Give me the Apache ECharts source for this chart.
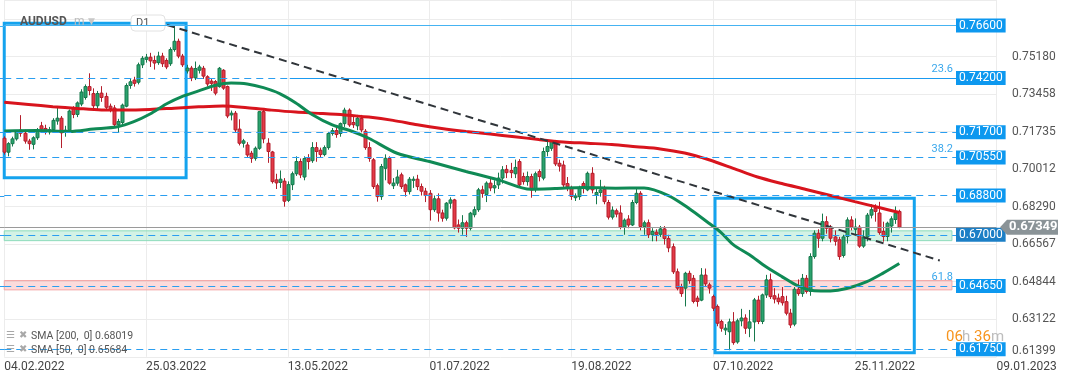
<!DOCTYPE html>
<html><head><meta charset="utf-8">
<script src="https://cdn.jsdelivr.net/npm/echarts@6/dist/echarts.min.js"></script>
<style>html,body{margin:0;padding:0;background:#fff}#c{width:1072px;height:382px}</style>
</head><body><div id="c"></div>
<script>
// ---------- data ----------
const DATE_TICKS = ['04.02.2022','25.03.2022','13.05.2022','01.07.2022','19.08.2022','07.10.2022','25.11.2022','09.01.2023'];
const TICK_STEP = 35; // trading days between date ticks
const PRICE_TICKS = ['0.61399','0.63122','0.64844','0.66567','0.68290','0.70012','0.71735','0.73458','0.75180'];
// daily AUDUSD candles [open, close, low, high], from 04.02.2022
const CANDLES = [
[0.7143,0.7079,0.7068,0.7152],[0.7079,0.7118,0.7060,0.7125],[0.7118,0.7140,0.7105,0.7150],[0.7140,0.7172,0.7132,0.7180],[0.7180,0.7166,0.7150,0.7249],
[0.7166,0.7130,0.7118,0.7182],[0.7130,0.7118,0.7090,0.7140],[0.7115,0.7145,0.7092,0.7152],[0.7145,0.7180,0.7135,0.7190],[0.7200,0.7185,0.7168,0.7218],
[0.7188,0.7174,0.7160,0.7205],[0.7172,0.7182,0.7160,0.7195],[0.7182,0.7225,0.7172,0.7235],[0.7222,0.7235,0.7205,0.7282],[0.7235,0.7168,0.7098,0.7245],
[0.7170,0.7180,0.7150,0.7200],[0.7180,0.7268,0.7170,0.7275],[0.7280,0.7252,0.7235,0.7290],[0.7252,0.7305,0.7240,0.7312],[0.7300,0.7355,0.7290,0.7368],
[0.7330,0.7380,0.7320,0.7390],[0.7380,0.7362,0.7340,0.7441],[0.7348,0.7292,0.7280,0.7372],[0.7292,0.7348,0.7275,0.7360],[0.7350,0.7330,0.7310,0.7382],
[0.7335,0.7285,0.7272,0.7352],[0.7290,0.7280,0.7262,0.7302],[0.7282,0.7205,0.7190,0.7295],[0.7205,0.7220,0.7170,0.7232],[0.7215,0.7295,0.7205,0.7302],
[0.7290,0.7385,0.7285,0.7395],[0.7385,0.7402,0.7370,0.7415],[0.7410,0.7395,0.7380,0.7425],[0.7400,0.7480,0.7390,0.7490],[0.7480,0.7510,0.7465,0.7520],
[0.7505,0.7515,0.7490,0.7530],[0.7515,0.7498,0.7470,0.7535],[0.7500,0.7488,0.7458,0.7522],[0.7490,0.7520,0.7480,0.7540],[0.7520,0.7485,0.7470,0.7535],
[0.7500,0.7470,0.7460,0.7510],[0.7485,0.7550,0.7475,0.7560],[0.7550,0.7588,0.7540,0.7661],[0.7588,0.7520,0.7510,0.7600],[0.7520,0.7480,0.7470,0.7530],
[0.7452,0.7465,0.7440,0.7480],[0.7465,0.7420,0.7405,0.7475],[0.7420,0.7463,0.7410,0.7495],[0.7455,0.7470,0.7440,0.7480],[0.7464,0.7428,0.7415,0.7475],
[0.7425,0.7392,0.7380,0.7432],[0.7405,0.7395,0.7360,0.7415],[0.7403,0.7350,0.7340,0.7410],[0.7380,0.7464,0.7375,0.7470],[0.7455,0.7373,0.7365,0.7460],
[0.7380,0.7245,0.7235,0.7385],[0.7250,0.7258,0.7225,0.7270],[0.7258,0.7181,0.7170,0.7268],[0.7185,0.7120,0.7110,0.7230],[0.7120,0.7131,0.7100,0.7140],
[0.7112,0.7066,0.7055,0.7125],[0.7074,0.7051,0.7030,0.7085],[0.7051,0.7097,0.7040,0.7105],[0.7097,0.7265,0.7090,0.7266],[0.7265,0.7140,0.7120,0.7275],
[0.7120,0.7082,0.7030,0.7143],[0.7080,0.6944,0.6935,0.7085],[0.6952,0.6938,0.6910,0.6980],[0.6940,0.6955,0.6915,0.6995],[0.6946,0.6854,0.6829,0.6960],
[0.6858,0.6930,0.6850,0.6945],[0.6930,0.6980,0.6905,0.6990],[0.6980,0.7036,0.6970,0.7060],[0.7036,0.6975,0.6960,0.7050],[0.6965,0.7050,0.6950,0.7060],
[0.7051,0.7036,0.7000,0.7070],[0.7040,0.7100,0.7030,0.7125],[0.7100,0.7082,0.7035,0.7125],[0.7088,0.7068,0.7055,0.7100],[0.7068,0.7100,0.7060,0.7110],
[0.7100,0.7165,0.7090,0.7172],[0.7165,0.7178,0.7155,0.7190],[0.7178,0.7160,0.7145,0.7200],[0.7165,0.7210,0.7150,0.7215],[0.7210,0.7272,0.7195,0.7283],
[0.7272,0.7204,0.7195,0.7280],[0.7215,0.7205,0.7190,0.7250],[0.7200,0.7235,0.7180,0.7250],[0.7234,0.7181,0.7170,0.7250],[0.7175,0.7100,0.7090,0.7185],
[0.7100,0.7050,0.7035,0.7125],[0.7044,0.6921,0.6910,0.7052],[0.6925,0.6875,0.6852,0.6935],[0.6875,0.7013,0.6860,0.7025],[0.7005,0.7051,0.6950,0.7069],
[0.7050,0.6937,0.6930,0.7060],[0.6925,0.6937,0.6910,0.6960],[0.6937,0.6965,0.6925,0.6998],[0.6975,0.6921,0.6910,0.6985],[0.6929,0.6898,0.6875,0.6935],
[0.6898,0.6955,0.6885,0.6965],[0.6950,0.6955,0.6915,0.6968],[0.6955,0.6921,0.6905,0.6975],[0.6921,0.6900,0.6880,0.6935],[0.6900,0.6880,0.6850,0.6915],
[0.6890,0.6815,0.6765,0.6905],[0.6815,0.6865,0.6805,0.6880],[0.6865,0.6800,0.6760,0.6890],[0.6800,0.6776,0.6760,0.6815],[0.6776,0.6845,0.6765,0.6850],
[0.6845,0.6860,0.6820,0.6872],[0.6860,0.6732,0.6725,0.6865],[0.6745,0.6730,0.6710,0.6770],[0.6730,0.6755,0.6700,0.6790],[0.6755,0.6730,0.6690,0.6765],
[0.6730,0.6799,0.6720,0.6805],[0.6792,0.6815,0.6780,0.6830],[0.6815,0.6906,0.6805,0.6915],[0.6906,0.6890,0.6870,0.6925],[0.6885,0.6937,0.6850,0.6945],
[0.6937,0.6915,0.6900,0.6960],[0.6915,0.6925,0.6890,0.6950],[0.6929,0.6960,0.6910,0.6985],[0.6960,0.6998,0.6935,0.7015],[0.7000,0.6985,0.6960,0.7020],
[0.6995,0.6985,0.6960,0.7030],[0.6980,0.7009,0.6960,0.7045],[0.7036,0.6929,0.6915,0.7047],[0.6967,0.6944,0.6930,0.6985],[0.6944,0.6967,0.6925,0.6990],
[0.6967,0.6906,0.6870,0.6980],[0.6910,0.6980,0.6895,0.6990],[0.6990,0.6967,0.6945,0.7000],[0.6960,0.7082,0.6950,0.7100],[0.7082,0.7105,0.7060,0.7137],
[0.7097,0.7128,0.7085,0.7135],[0.7125,0.7025,0.7015,0.7135],[0.7028,0.7015,0.6990,0.7045],[0.7020,0.6929,0.6915,0.7040],[0.6935,0.6920,0.6900,0.6965],
[0.6915,0.6876,0.6860,0.6925],[0.6870,0.6878,0.6855,0.6890],[0.6875,0.6915,0.6860,0.6925],[0.6935,0.6912,0.6890,0.6945],[0.6906,0.6982,0.6900,0.6990],
[0.6982,0.6906,0.6890,0.7010],[0.6883,0.6894,0.6840,0.6915],[0.6894,0.6906,0.6875,0.6952],[0.6909,0.6852,0.6840,0.6925],[0.6848,0.6781,0.6770,0.6860],
[0.6781,0.6813,0.6770,0.6830],[0.6810,0.6795,0.6780,0.6820],[0.6800,0.6736,0.6725,0.6835],[0.6736,0.6767,0.6700,0.6775],[0.6772,0.6745,0.6730,0.6790],
[0.6745,0.6848,0.6740,0.6860],[0.6848,0.6890,0.6840,0.6916],[0.6890,0.6738,0.6720,0.6900],[0.6738,0.6755,0.6700,0.6765],[0.6755,0.6700,0.6685,0.6770],
[0.6700,0.6715,0.6670,0.6730],[0.6712,0.6702,0.6670,0.6725],[0.6702,0.6727,0.6690,0.6740],[0.6727,0.6683,0.6655,0.6740],[0.6683,0.6640,0.6620,0.6700],
[0.6645,0.6530,0.6520,0.6660],[0.6530,0.6455,0.6445,0.6545],[0.6460,0.6430,0.6415,0.6475],[0.6455,0.6523,0.6371,0.6530],[0.6523,0.6490,0.6475,0.6535],
[0.6500,0.6394,0.6385,0.6515],[0.6409,0.6394,0.6370,0.6420],[0.6400,0.6515,0.6395,0.6547],[0.6515,0.6475,0.6460,0.6545],[0.6470,0.6455,0.6430,0.6480],
[0.6416,0.6363,0.6350,0.6425],[0.6371,0.6294,0.6280,0.6380],[0.6302,0.6271,0.6255,0.6310],[0.6263,0.6271,0.6240,0.6290],[0.6255,0.6300,0.6170,0.6315],
[0.6300,0.6205,0.6195,0.6345],[0.6208,0.6305,0.6200,0.6315],[0.6305,0.6318,0.6280,0.6360],[0.6318,0.6271,0.6245,0.6335],[0.6271,0.6300,0.6230,0.6355],
[0.6300,0.6401,0.6210,0.6410],[0.6400,0.6302,0.6290,0.6420],[0.6302,0.6424,0.6290,0.6430],[0.6424,0.6493,0.6410,0.6516],[0.6493,0.6416,0.6405,0.6522],
[0.6420,0.6405,0.6385,0.6455],[0.6409,0.6393,0.6380,0.6430],[0.6416,0.6388,0.6375,0.6460],[0.6393,0.6340,0.6330,0.6420],[0.6340,0.6286,0.6272,0.6360],
[0.6290,0.6450,0.6280,0.6460],[0.6450,0.6430,0.6420,0.6495],[0.6430,0.6500,0.6415,0.6520],[0.6500,0.6440,0.6430,0.6515],[0.6440,0.6600,0.6420,0.6615],
[0.6600,0.6707,0.6590,0.6720],[0.6707,0.6684,0.6640,0.6725],[0.6684,0.6760,0.6670,0.6797],[0.6760,0.6730,0.6705,0.6785],[0.6735,0.6684,0.6665,0.6745],
[0.6690,0.6670,0.6650,0.6720],[0.6677,0.6600,0.6585,0.6690],[0.6605,0.6690,0.6595,0.6700],[0.6692,0.6768,0.6660,0.6780],[0.6768,0.6735,0.6720,0.6785],
[0.6725,0.6735,0.6700,0.6775],[0.6735,0.6648,0.6640,0.6745],[0.6648,0.6690,0.6640,0.6720],[0.6690,0.6790,0.6670,0.6800],[0.6790,0.6815,0.6775,0.6840],
[0.6822,0.6807,0.6760,0.6840],[0.6800,0.6710,0.6700,0.6851],[0.6715,0.6692,0.6668,0.6760],[0.6692,0.6753,0.6670,0.6760],[0.6740,0.6773,0.6710,0.6785],
[0.6770,0.6799,0.6750,0.6830],[0.6807,0.67349,0.6730,0.6815]
];
// moving averages: [bar index, value]
const SMA200 = [[0,0.7308],[6,0.7298],[12,0.7288],[18,0.7280],[24,0.7273],[30,0.7272],[36,0.7275],[42,0.7281],[48,0.7287],[54,0.7291],[60,0.7283],[66,0.7272],[72,0.7263],[78,0.7257],[84,0.7250],[90,0.7240],[96,0.7225],[102,0.7205],[108,0.7188],[114,0.7174],[120,0.7162],[126,0.7150],[132,0.7137],[138,0.7126],[144,0.7120],[150,0.7114],[156,0.7104],[162,0.7094],[168,0.7075],[174,0.7044],[180,0.7005],[186,0.6965],[192,0.6935],[198,0.6908],[204,0.6880],[210,0.6852],[216,0.6825],[221,0.6802]];
const SMA50 = [[0,0.7176],[8,0.7178],[16,0.7174],[22,0.7185],[28,0.7196],[32,0.7219],[36,0.7254],[40,0.7300],[44,0.7335],[48,0.7360],[52,0.7385],[56,0.7396],[60,0.7392],[64,0.7375],[68,0.7348],[72,0.7305],[76,0.7252],[81,0.7204],[86,0.7174],[90,0.7143],[97,0.7074],[105,0.7036],[114,0.6990],[122,0.6952],[130,0.6909],[136,0.6912],[143,0.6917],[151,0.6914],[158,0.6915],[164,0.6880],[169,0.6822],[174,0.6753],[177,0.6710],[180,0.6655],[184,0.6608],[188,0.6554],[192,0.6508],[196,0.6465],[200,0.6443],[204,0.6442],[208,0.6453],[213,0.6485],[217,0.6524],[221,0.6568]];
const LEVELS = [0.766, 0.742, 0.717, 0.7055, 0.688, 0.670, 0.6465, 0.6175];
const FIB_LEVELS = [['23.6',0.742],['38.2',0.7055],['61.8',0.6465]];
const LAST_PRICE = 0.67349;
const ZONES = [[0.6718,0.6673],[0.6490,0.6447]];
const BOXES = [[-0.55,0.7671,44.9,0.6962],[175.5,0.6868,224.7,0.6159]];
const TREND = [[40.2,0.7663],[231,0.6582]];
const LEGEND_ITEMS = ['SMA [200,  0] 0.68019','SMA [50,  0] 0.65684'];
const COUNTDOWN = ['06','h','36','m'];

// ---------- chart ----------
const X_MIN = 0, X_MAX = 245, LINE_START = 0, LINE_END = 235, SOLID_FROM = 70.5;
const Y_MIN = 0.61399, Y_MAX = 0.77774, Y_STEP = 0.01722625;
const FONT = 'Roboto, "Noto Sans", sans-serif';
const BLUE = '#2a9ef0';

const chart = echarts.init(document.getElementById('c'), null, {renderer: 'canvas'});

const tagColors = {0.670: '#1c7fc6'};
const levelLines = [];
LEVELS.forEach(v => {
  const tag = {show: true, position: 'end', distance: 0, formatter: v.toFixed(5), color: '#fff',
    backgroundColor: tagColors[v] || '#0d98ef', padding: [1, 3, 1, 3], fontSize: 12, lineHeight: 12, fontFamily: FONT};
  if (v === 0.766) {
    levelLines.push([{coord: [LINE_START, v], lineStyle: {type: 'solid', color: '#45b3f2', width: 1.2}, label: tag}, {coord: [LINE_END, v]}]);
  } else if (v === 0.742) {
    levelLines.push([{coord: [LINE_START, v], lineStyle: {type: [7, 5], color: BLUE, width: 1}, label: {show: false}}, {coord: [SOLID_FROM, v]}]);
    levelLines.push([{coord: [SOLID_FROM, v], lineStyle: {type: 'solid', color: '#1a9af0', width: 1.2}, label: tag}, {coord: [LINE_END, v]}]);
  } else {
    levelLines.push([{coord: [LINE_START, v], lineStyle: {type: [7, 5], color: BLUE, width: 1}, label: tag}, {coord: [LINE_END, v]}]);
  }
});
levelLines.push([{coord: [LINE_START, LAST_PRICE], lineStyle: {type: 'solid', color: '#9a9a9a', width: 1}, label: {show: false}}, {coord: [X_MAX, LAST_PRICE]}]);

const zoneStyles = [
  {color: 'rgba(120,215,175,0.33)', borderColor: '#8fdcbc', borderWidth: 1},
  {color: 'rgba(248,160,160,0.38)', borderColor: '#f4a9a9', borderWidth: 1}
];
const areas = ZONES.map((z, k) => [{coord: [-1.05, z[0]], itemStyle: zoneStyles[k]}, {coord: [234, z[1]]}]);
BOXES.forEach(b => areas.push([{coord: [b[0], b[1]], itemStyle: {color: 'rgba(0,0,0,0)', borderColor: '#14a3ee', borderWidth: 3}}, {coord: [b[2], b[3]]}]));

function renderCandle(params, api) {
  const i = api.value(0), o = api.value(1), c = api.value(2), l = api.value(3), h = api.value(4);
  const po = api.coord([i, o]), yc = api.coord([i, c])[1];
  const yl = api.coord([i, l])[1], yh = api.coord([i, h])[1];
  const up = c >= o;
  const edge = up ? '#17794c' : '#b41f2c';
  const fill = up ? '#2ba36e' : '#e43a47';
  const cx = Math.round(po[0]);
  const top = Math.min(po[1], yc), hgt = Math.max(1, Math.abs(po[1] - yc));
  return {type: 'group', children: [
    {type: 'line', shape: {x1: cx + 0.5, y1: yh, x2: cx + 0.5, y2: yl}, style: {stroke: edge, lineWidth: 1}},
    {type: 'rect', shape: {x: cx - 1, y: top, width: 3, height: hgt}, style: {fill: fill, stroke: edge, lineWidth: 1}}
  ]};
}

const option = {
  animation: false,
  backgroundColor: '#fff',
  grid: {left: 4.25, right: 75.5, top: 0, bottom: 25.2, containLabel: false, outerBoundsMode: 'none'},
  xAxis: {
    type: 'value', min: X_MIN, max: X_MAX, interval: TICK_STEP,
    axisLine: {show: false}, axisTick: {show: false},
    splitLine: {show: true, lineStyle: {color: '#ececec', width: 1}},
    axisLabel: {
      show: true, align: 'left', margin: 4, color: '#444', fontSize: 12, fontFamily: FONT, showMaxLabel: true, showMinLabel: true,
      formatter: v => { const k = v / TICK_STEP; return (Number.isInteger(k) && k < DATE_TICKS.length) ? DATE_TICKS[k] : ''; }
    }
  },
  yAxis: {
    type: 'value', position: 'right', min: Y_MIN, max: Y_MAX, interval: Y_STEP, scale: true,
    axisLine: {show: false}, axisTick: {show: false},
    splitLine: {show: true, lineStyle: {color: '#ececec', width: 1}},
    axisLabel: {
      show: true, margin: 15.5, color: '#555', fontSize: 12, fontFamily: FONT, showMaxLabel: false,
      formatter: v => {
        const k = Math.round((v - Y_MIN) / Y_STEP);
        if (Math.abs(v - (Y_MIN + k * Y_STEP)) > 1e-7 || k < 0 || k >= PRICE_TICKS.length) return '';
        return k === 0 ? '{b|' + PRICE_TICKS[0] + '}' : PRICE_TICKS[k];
      },
      rich: {b: {color: '#555', fontSize: 12, fontFamily: FONT, padding: [0, 0, 11, 0]}}
    }
  },
  series: [
    {type: 'custom', name: 'AUDUSD', clip: false, z: 2, renderItem: renderCandle,
     data: CANDLES.map((d, i) => [i, d[0], d[1], d[2], d[3]]), encode: {x: 0, y: [1, 2, 3, 4]}},
    {type: 'line', name: 'SMA200', data: SMA200, showSymbol: false, smooth: 0.3, clip: false, z: 3,
     lineStyle: {color: '#d8141d', width: 3}, silent: true},
    {type: 'line', name: 'SMA50', data: SMA50, showSymbol: false, smooth: 0.3, clip: false, z: 3,
     lineStyle: {color: '#0f8a55', width: 3}, silent: true},
    {type: 'line', name: 'trend', data: TREND, showSymbol: false, clip: false, z: 4, silent: true,
     lineStyle: {color: '#30353a', width: 2, type: [8, 5]},
     markArea: {silent: true, data: areas, label: {show: false}},
     markLine: {silent: true, symbol: ['none', 'none'], animation: false, data: levelLines}}
  ]
};
chart.setOption(option);

// ---------- annotations placed through the axes ----------
const px = (i, v) => chart.convertToPixel({gridIndex: 0}, [i, v]);
const graphics = [];
FIB_LEVELS.forEach(f => {
  const p = px(LINE_END, f[1]);
  graphics.push({type: 'text', x: p[0] - 3, y: p[1] - 3, z: 10,
    style: {text: f[0], fill: '#39a7ec', font: '11px ' + FONT, textAlign: 'right', align: 'right', textVerticalAlign: 'bottom', verticalAlign: 'bottom'}});
});
// left stubs of the level lines (before the first bar)
LEVELS.concat([LAST_PRICE]).forEach(v => {
  const p = px(0, v);
  graphics.push({type: 'line', z: 5, shape: {x1: 0, y1: Math.round(p[1]) + 0.5, x2: p[0], y2: Math.round(p[1]) + 0.5},
    style: {stroke: v === LAST_PRICE ? '#9a9a9a' : (v === 0.766 ? '#45b3f2' : BLUE), lineWidth: 1}});
});
const ly = px(0, LAST_PRICE)[1];
graphics.push({type: 'polygon', z: 10, shape: {points: [[1000, ly], [1007, ly - 7.5], [1058, ly - 7.5], [1058, ly + 7.5], [1007, ly + 7.5]]}, style: {fill: '#8a9397'}});
graphics.push({type: 'text', z: 11, x: 1009, y: ly, style: {text: LAST_PRICE.toFixed(5), fill: '#fff', font: 'bold 13px ' + FONT, textVerticalAlign: 'middle', verticalAlign: 'middle'}});
// header
graphics.push({type: 'text', z: 1, x: 20, y: 16, style: {text: 'AUDUSD', fill: '#555', font: 'bold 12px ' + FONT}});
graphics.push({type: 'text', z: 1, x: 74, y: 16, style: {text: 'm', fill: '#bbb', font: '12px ' + FONT}});
graphics.push({type: 'text', z: 1, x: 88, y: 17, style: {text: '▼', fill: '#c8c8c8', font: '9px "DejaVu Sans"'}});
graphics.push({type: 'rect', z: 1, shape: {x: 131, y: 15, width: 34, height: 16, r: 4}, style: {fill: '#fff', stroke: '#e2e2e2', lineWidth: 1}});
graphics.push({type: 'text', z: 1, x: 136, y: 18, style: {text: 'D1', fill: '#555', font: '11px ' + FONT}});
// SMA legend
LEGEND_ITEMS.forEach((t, k) => {
  const y = 331 + k * 14;
  graphics.push({type: 'text', z: 12, x: 6, y: y - 1, style: {text: '☰', fill: '#a8a8a8', font: '10px "DejaVu Sans"'}});
  graphics.push({type: 'text', z: 12, x: 19, y: y - 1, style: {text: '✖', fill: '#a8a8a8', font: '10px "DejaVu Sans"'}});
  graphics.push({type: 'text', z: 12, x: 31, y: y, style: {text: t, fill: '#555', font: '10.5px ' + FONT}});
});
// countdown
const cdX = [946, 962, 974, 991];
COUNTDOWN.forEach((t, k) => {
  graphics.push({type: 'text', z: 12, x: cdX[k], y: 330, style: {text: t, fill: (k % 2 === 0) ? '#f7941d' : '#bdbdbd', font: '15px ' + FONT}});
});
chart.setOption({graphic: graphics});
</script>
</body></html>
